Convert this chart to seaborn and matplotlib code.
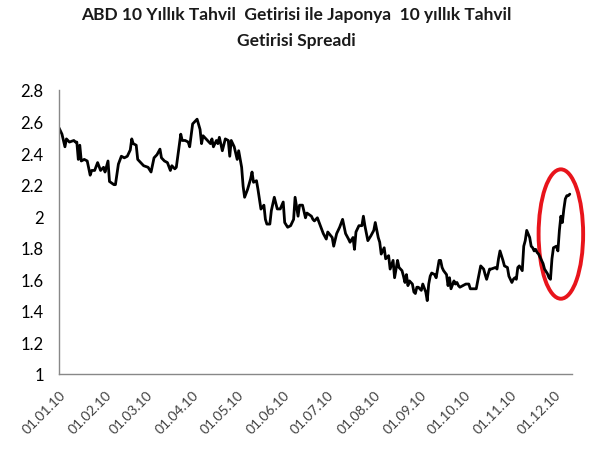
import pandas as pd
import seaborn as sns
import matplotlib.pyplot as plt
import matplotlib.dates as mdates
from matplotlib.patches import Ellipse
from matplotlib.ticker import FuncFormatter

title = 'ABD 10 Yıllık Tahvil  Getirisi ile Japonya  10 yıllık Tahvil\nGetirisi Spreadi'

# days after 01.01.2010
days = [0, 2, 4, 5, 7, 10, 11, 12, 13, 14, 15, 17, 19, 21, 22, 24, 26, 28, 30, 31,
        33, 34, 37, 38, 40, 42, 44, 46, 48, 49, 50, 52, 53, 55, 57,
        60, 62, 64, 66, 68, 69, 71, 73, 75, 76, 78, 79, 82, 83, 85, 87, 88, 90, 92, 93,
        95, 96, 97, 100, 102, 103, 104, 106, 107, 108, 110, 112, 114,
        115, 116, 118, 120, 121, 123, 124, 125, 127, 129, 130, 131, 133, 134, 136, 138,
        139, 140, 142, 143, 145, 147, 149, 151, 152, 154, 156, 158, 159, 161, 162, 164,
        166, 167, 170, 171,
        172, 174, 176, 178, 180, 181, 184, 185, 187, 189, 191, 193, 195, 196, 198, 199,
        200, 202, 204, 205, 206, 208, 210, 212, 213, 215, 216, 217, 219, 220, 222, 223,
        225, 226, 228, 229,
        231, 232, 233, 234, 235, 236, 238, 239, 240, 241, 242, 244, 245, 247, 248, 249,
        250, 251, 253, 254, 256, 257, 258, 259, 261, 262, 263, 264, 266, 267, 268, 269,
        270, 272, 274, 276, 277, 280, 281, 282, 284, 286,
        287, 288, 290, 291, 294, 295, 296, 297, 299, 300, 302, 303, 305, 306, 307, 308,
        309, 310, 312, 313, 314, 315, 317, 318, 319, 320, 321, 322, 323, 325, 326, 327,
        329, 330, 331, 332, 333, 335, 336, 337, 338, 339, 340, 341, 342, 343, 344]

spread = [2.56, 2.52, 2.44, 2.49, 2.47, 2.48, 2.47, 2.47, 2.36, 2.45, 2.35, 2.36, 2.35, 2.26, 2.29, 2.29, 2.34, 2.29, 2.31, 2.28,
          2.35, 2.22, 2.20, 2.20, 2.33, 2.38, 2.37, 2.38, 2.42, 2.49, 2.46, 2.45, 2.36, 2.34, 2.32,
          2.31, 2.28, 2.37, 2.39, 2.425, 2.37, 2.35, 2.34, 2.29, 2.32, 2.30, 2.31, 2.52, 2.48, 2.48, 2.47, 2.44, 2.585, 2.605, 2.615,
          2.55, 2.46, 2.51, 2.48, 2.46, 2.49, 2.44, 2.48, 2.46, 2.50, 2.415, 2.49, 2.48,
          2.38, 2.48, 2.44, 2.36, 2.415, 2.31, 2.19, 2.12, 2.17, 2.235, 2.28, 2.215, 2.225, 2.17, 2.045, 2.07,
          1.98, 1.95, 1.95, 2.035, 2.12, 2.046, 2.046, 2.09, 1.96, 1.93, 1.94, 1.98, 2.12, 2.00, 2.07, 2.07,
          1.99, 2.02, 2.00, 1.98,
          1.97, 1.99, 1.94, 1.89, 1.855, 1.90, 1.865, 1.81, 1.89, 1.93, 1.98, 1.89, 1.855, 1.835, 1.865, 1.79,
          1.90, 1.94, 1.94, 2.00, 1.94, 1.845, 1.875, 1.91, 1.96, 1.865, 1.835, 1.76, 1.80, 1.73, 1.75, 1.665,
          1.72, 1.61, 1.72, 1.675,
          1.655, 1.62, 1.58, 1.63, 1.56, 1.59, 1.57, 1.52, 1.51, 1.55, 1.55, 1.53, 1.57, 1.52, 1.465, 1.57,
          1.62, 1.64, 1.63, 1.61, 1.72, 1.72, 1.675, 1.655, 1.63, 1.56, 1.61, 1.54, 1.59, 1.57, 1.58, 1.56,
          1.55, 1.56, 1.57, 1.57, 1.54, 1.54, 1.54, 1.59, 1.685, 1.665,
          1.63, 1.60, 1.665, 1.665, 1.675, 1.665, 1.73, 1.78, 1.72, 1.685, 1.675, 1.62, 1.58, 1.60, 1.61, 1.60,
          1.675, 1.685, 1.655, 1.81, 1.845, 1.91, 1.865, 1.81, 1.80, 1.78, 1.79, 1.77, 1.76, 1.72, 1.70, 1.665,
          1.635, 1.61, 1.60, 1.73, 1.80, 1.81, 1.78, 1.91, 2.00, 1.96, 2.045, 2.11, 2.13, 2.13, 2.14]

start = pd.Timestamp('2010-01-01')
df = pd.DataFrame({'tarih': start + pd.to_timedelta(days, unit='D'), 'spread': spread})

# highlighted last days (red ellipse)
hl_center = pd.Timestamp('2010-12-05')
hl_days = 30
hl_value = 1.887
hl_height = 0.82

sns.set_style('white')
plt.rcParams['font.family'] = ['Lato', 'DejaVu Sans']

fig = plt.figure(figsize=(5.93, 4.52), dpi=100)
ax = fig.add_axes([0.0995, 0.1704, 0.8651, 0.6283])

sns.lineplot(data=df, x='tarih', y='spread', color='black', linewidth=2.0,
             estimator=None, sort=False, ax=ax)

ax.set_ylim(1, 2.8)
ax.set_yticks([1 + 0.2 * i for i in range(10)])
ax.yaxis.set_major_formatter(FuncFormatter(lambda v, p: '{:g}'.format(round(v, 1))))
ax.set_xlim(start, start + pd.Timedelta(days=345.5))
ax.xaxis.set_major_locator(mdates.MonthLocator())
ax.xaxis.set_major_formatter(mdates.DateFormatter('%d.%m.%y'))
ax.set_xlabel('')
ax.set_ylabel('')

for s in ['top', 'right']:
    ax.spines[s].set_visible(False)
for s in ['left', 'bottom']:
    ax.spines[s].set_color('#888888')
    ax.spines[s].set_linewidth(1.0)

ax.tick_params(axis='both', direction='out', length=5, width=1, color='#888888')
ax.tick_params(axis='y', labelsize=12, labelcolor='black', pad=6)
ax.tick_params(axis='x', labelsize=10, labelcolor='#404040', pad=5)
plt.setp(ax.get_xticklabels(), rotation=45, ha='right', rotation_mode='anchor')

ell = Ellipse((mdates.date2num(hl_center), hl_value), hl_days, hl_height,
              fill=False, edgecolor='#e8141b', linewidth=2.8, clip_on=False)
ax.add_patch(ell)

fig.text(0.5, 0.985, title, ha='center', va='top', fontsize=12.5,
         fontweight='bold', color='#1a1a1a', linespacing=1.75)

plt.savefig('out.png', dpi=100)
